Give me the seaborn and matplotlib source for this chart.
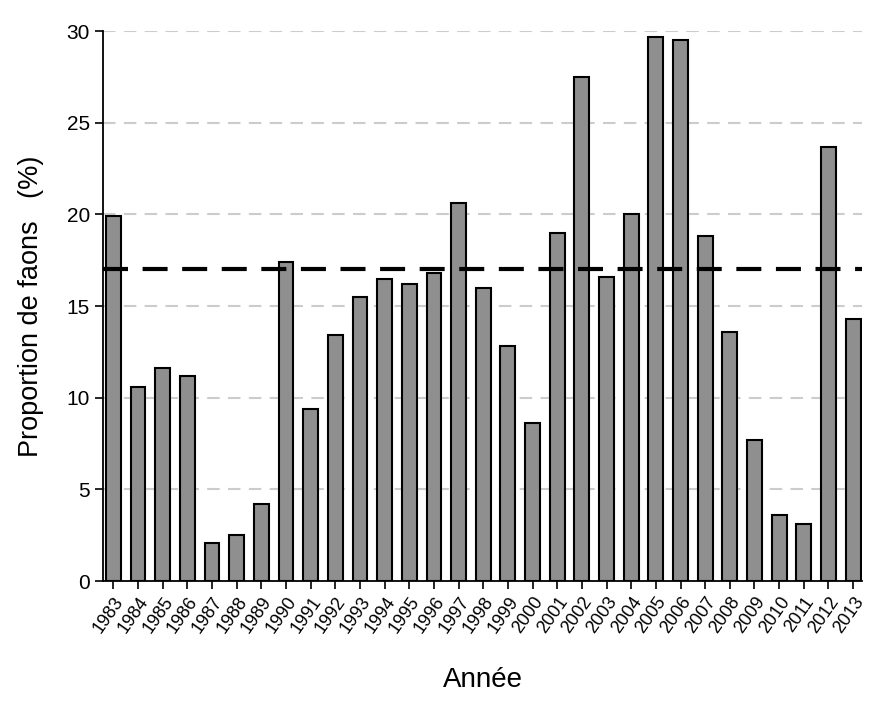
import matplotlib
matplotlib.use("Agg")
import matplotlib.pyplot as plt
import seaborn as sns
import pandas as pd

# ── Data ────────────────────────────────────────────────────────────────
YEARS = [str(y) for y in range(1983, 2014)]
PROPORTIONS = [19.9, 10.6, 11.6, 11.2, 2.1, 2.5, 4.2, 17.4, 9.4, 13.4,
               15.5, 16.5, 16.2, 16.8, 20.6, 16.0, 12.8, 8.6, 19.0, 27.5,
               16.6, 20.0, 29.7, 29.5, 18.8, 13.6, 7.7, 3.6, 3.1, 23.7, 14.3]
MEAN_LINE = 17.0
Y_TICKS = [0, 5, 10, 15, 20, 25, 30]

sns.set_theme(style="white")
plt.rcParams["font.family"] = ["Liberation Sans", "DejaVu Sans"]
plt.rcParams["text.color"] = "black"
plt.rcParams["axes.labelcolor"] = "black"
plt.rcParams["xtick.color"] = "black"
plt.rcParams["ytick.color"] = "black"

df = pd.DataFrame({"annee": YEARS, "prop": PROPORTIONS})

fig = plt.figure(figsize=(8.75, 7.13), dpi=100)
ax = fig.add_axes([0.1177, 0.185, 0.868, 0.7715])

for t in Y_TICKS[1:]:
    ax.axhline(t, color="#cccccc", lw=1.5, ls=(0, (6, 4)), zorder=0)

sns.barplot(data=df, x="annee", y="prop", color="#8f8f8f", saturation=1,
            width=0.6, edgecolor="black", linewidth=1.5, ax=ax, zorder=2)

ax.axhline(MEAN_LINE, color="black", lw=3, ls=(0, (6, 3.5)), zorder=3)

ax.set_xlim(-0.42, 30.38)
ax.set_ylim(0, 30)
ax.set_yticks(Y_TICKS)
ax.set_yticklabels([str(t) for t in Y_TICKS], fontsize=15)
ax.set_xticks(range(len(YEARS)))
ax.set_xticklabels(YEARS, rotation=55, ha="right", rotation_mode="anchor", fontsize=13)

sns.despine(ax=ax)
for s in ["left", "bottom"]:
    ax.spines[s].set_color("black")
    ax.spines[s].set_linewidth(1.3)
ax.tick_params(axis="both", direction="out", length=6, width=1.2, color="black",
               left=True, bottom=True)
ax.tick_params(axis="x", pad=3)

ax.set_ylabel("Proportion de faons   (%)", fontsize=19.5, labelpad=16)
ax.set_xlabel("Année", fontsize=20, labelpad=22)

fig.savefig("out.png", dpi=100)
plt.close(fig)
